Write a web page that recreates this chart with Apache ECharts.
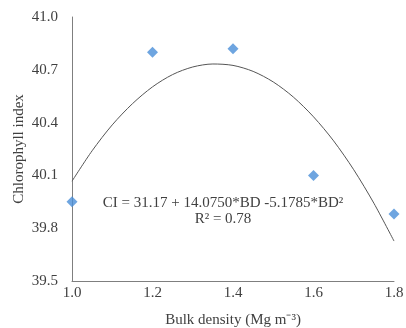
<!DOCTYPE html>
<html>
<head>
<meta charset="utf-8">
<script src="https://cdn.jsdelivr.net/npm/echarts@6/dist/echarts.min.js"></script>
<style>
  html, body { margin: 0; padding: 0; background: #fff; }
  #chart { width: 406px; height: 328px; }
</style>
</head>
<body>
<div id="chart"></div>
<script>
// observed points
const bulkDensity = [1.0, 1.2, 1.4, 1.6, 1.8]
const chlorophyll = [39.95, 40.80, 40.82, 40.10, 39.88]

// fitted curve
const fitX = [1.0, 1.05, 1.1, 1.15, 1.2, 1.25, 1.3, 1.35, 1.4, 1.45, 1.5, 1.55, 1.6, 1.65, 1.7, 1.75, 1.8]
const fitY = [40.067, 40.240, 40.387, 40.507, 40.603, 40.673, 40.716, 40.733, 40.725, 40.691, 40.631, 40.545, 40.433, 40.296, 40.132, 39.942, 39.727]

const equationLines = ['CI = 31.17 + 14.0750*BD -5.1785*BD²', 'R² = 0.78']

const font = '"Liberation Serif", "Times New Roman", serif'
const textColor = '#404040'

const chart = echarts.init(document.getElementById('chart'))

chart.setOption({
  animation: false,
  textStyle: { fontFamily: font },
  grid: { left: 72, right: 12, top: 17, bottom: 47, containLabel: false, outerBoundsMode: 'none' },
  xAxis: {
    type: 'value',
    min: 1.0,
    max: 1.8,
    interval: 0.2,
    name: 'Bulk density (Mg m⁻³)',
    nameLocation: 'middle',
    nameGap: 32,
    nameMoveOverlap: false,
    nameTextStyle: { fontFamily: font, fontSize: 15, color: textColor },
    axisLine: { lineStyle: { color: '#7f7f7f', width: 1 } },
    axisTick: { show: false },
    splitLine: { show: false },
    axisLabel: {
      fontFamily: font, fontSize: 15, color: textColor, margin: 5,
      formatter: v => v.toFixed(1)
    }
  },
  yAxis: {
    type: 'value',
    min: 39.5,
    max: 41.0,
    interval: 0.3,
    name: 'Chlorophyll index',
    nameLocation: 'middle',
    nameGap: 45,
    nameMoveOverlap: false,
    nameTextStyle: { fontFamily: font, fontSize: 15, color: textColor },
    axisLine: { show: true, lineStyle: { color: '#7f7f7f', width: 1 } },
    axisTick: { show: false },
    splitLine: { show: false },
    axisLabel: {
      fontFamily: font, fontSize: 15, color: textColor, margin: 14,
      formatter: v => v.toFixed(1)
    }
  },
  series: [
    {
      name: 'Fit',
      type: 'line',
      data: fitX.map((x, i) => [x, fitY[i]]),
      smooth: 0.3,
      showSymbol: false,
      lineStyle: { color: '#555555', width: 1 },
      z: 2
    },
    {
      name: 'Chlorophyll',
      type: 'scatter',
      data: bulkDensity.map((x, i) => [x, chlorophyll[i]]),
      symbol: 'diamond',
      symbolSize: [11, 11],
      itemStyle: { color: '#4a8fd8' },
      z: 3
    }
  ],
  graphic: [
    {
      type: 'text',
      x: 223,
      y: 196,
      style: {
        text: equationLines[0],
        font: '15px ' + font,
        fill: textColor,
        align: 'center'
      }
    },
    {
      type: 'text',
      x: 223,
      y: 212,
      style: {
        text: equationLines[1],
        font: '15px ' + font,
        fill: textColor,
        align: 'center'
      }
    }
  ]
})
</script>
</body>
</html>
